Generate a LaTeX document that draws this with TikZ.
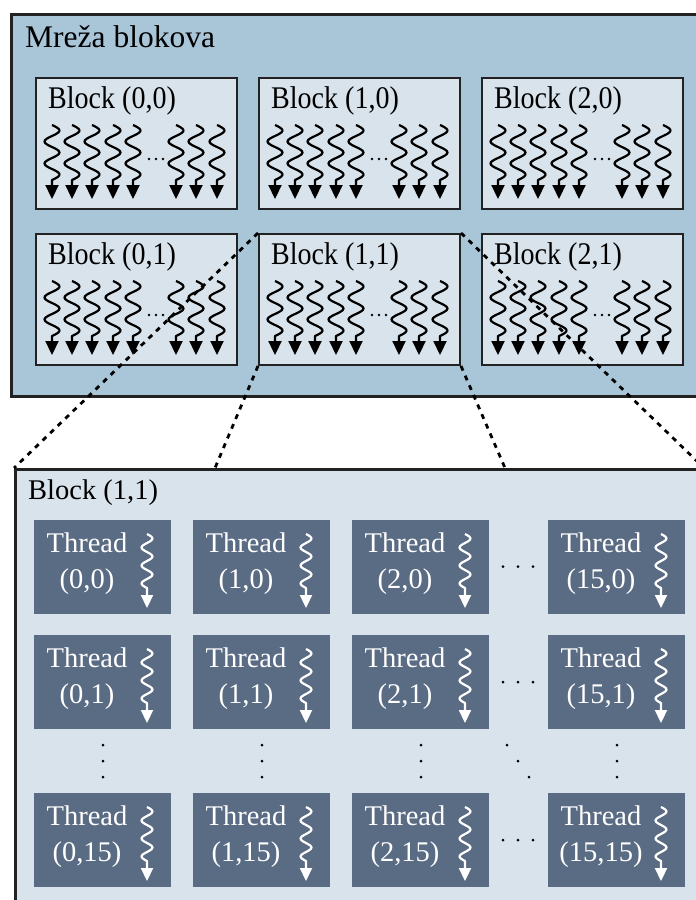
\documentclass[tikz,border=0pt]{standalone}
\usepackage{fontspec}
\setmainfont{Liberation Serif}
\usetikzlibrary{arrows.meta}
\definecolor{gridfill}{HTML}{A9C5D8}
\definecolor{blockfill}{HTML}{D8E3EB}
\definecolor{threadfill}{HTML}{5A6B84}
\definecolor{edge}{HTML}{222222}
% block captions are set narrow and tall
\newcommand{\narrowcap}[1]{\scalebox{0.89}[1]{#1}}
\begin{document}
\begin{tikzpicture}[x=1pt,y=-1pt,
  gridbox/.style={draw=edge, line width=3pt, fill=gridfill, rectangle, anchor=north west,
    minimum width=720pt, minimum height=382pt, inner sep=0pt},
  blockbox/.style={draw=edge, line width=2pt, fill=blockfill, rectangle, anchor=north west,
    minimum width=201pt, minimum height=131pt, inner sep=0pt},
  zoombox/.style={draw=edge, line width=2.5pt, fill=blockfill, rectangle, anchor=north west,
    minimum width=720pt, minimum height=460pt, inner sep=0pt},
  threadbox/.style={fill=threadfill, rectangle, anchor=north west,
    minimum width=137pt, minimum height=94pt, inner sep=0pt},
  lbl/.style={font=\fontsize{28.5}{34}\selectfont, inner sep=0pt, anchor=base west},
  tlbl/.style={font=\fontsize{28.5}{34}\selectfont, inner sep=0pt, anchor=base, text=white},
  bwave/.style={draw=black, line width=2.2pt, line join=round,
    -{Triangle[width=13pt,length=14pt]}},
  wwave/.style={draw=white, line width=2.2pt, line join=round,
    -{Triangle[width=12pt,length=13pt]}},
  conn/.style={draw=black, line width=2.8pt, dash pattern=on 5pt off 5.5pt},
  dot/.style={fill=black}
]
\useasboundingbox (0,0) rectangle (696,900);
\clip (0,0) rectangle (696,900);

% grid of blocks
\node[gridbox] (grid) at (10,13) {};
\node[lbl, font=\fontsize{31.5}{36}\selectfont] (gridlbl) at (25,47) {Mreža blokova};

\foreach \c/\cx in {0/35,1/258,2/481} {
  \foreach \r/\ry in {0/77,1/233} {
    \node[blockbox] (b\c\r) at (\cx,\ry) {};
    \node[lbl, font=\fontsize{31.5}{36}\selectfont] (bl\c\r) at (\cx+13,\ry+31)
      {\narrowcap{Block (\c,\r)}};
    % wavy thread arrows
    \foreach \o in {17,37,57,78,98,141,161,182}
      \draw[bwave] plot[domain=0:55, samples=45, variable=\t, smooth]
        ({\cx+\o+7.5*sin(\t*16.3636)}, {\ry+48+\t}) -- (\cx+\o,\ry+122);
    \foreach \o in {114,121,128}
      \fill[dot] (\cx+\o,\ry+82) circle (1.4pt);
  }
}

% enlarged block (1,1)
\node[zoombox] (zoom) at (14,468) {};
\node[lbl] (zoomlbl) at (28,499) {Block (1,1)};

\foreach \i/\tx in {0/34,1/193,2/352,15/548} {
  \foreach \j/\ty in {0/520,1/635,15/793} {
    \node[threadbox] (t\i-\j) at (\tx,\ty) {};
    \node[tlbl] (tt\i-\j) at (\tx+53,\ty+32) {Thread};
    \node[tlbl] (tn\i-\j) at (\tx+53,\ty+68) {(\i,\j)};
    \draw[wwave] plot[domain=0:54, samples=45, variable=\t, smooth]
      ({\tx+113+5.5*sin(\t*20)}, {\ty+14+\t}) -- (\tx+113,\ty+88);
  }
}

% ellipses between threads
\foreach \y in {566.5,682,840}
  \foreach \x in {503,518,533}
    \fill[dot] (\x,\y) circle (1.5pt);
\foreach \x in {103,262,421,617}
  \foreach \y in {745,761,777}
    \fill[dot] (\x,\y) circle (1.5pt);
\foreach \x/\y in {507/745,518/761,529/777}
  \fill[dot] (\x,\y) circle (1.5pt);

% projection of block (1,1) onto its enlarged view
\coordinate (zbl) at (215,468);
\coordinate (zbr) at (505,468);
\coordinate (ztr) at (704,468);
\draw[conn] (b11.north west) -- (zoom.north west);
\draw[conn] (b11.south west) -- (zbl);
\draw[conn] (b11.north east) -- (ztr);
\draw[conn] (b11.south east) -- (zbr);
\end{tikzpicture}
\end{document}
